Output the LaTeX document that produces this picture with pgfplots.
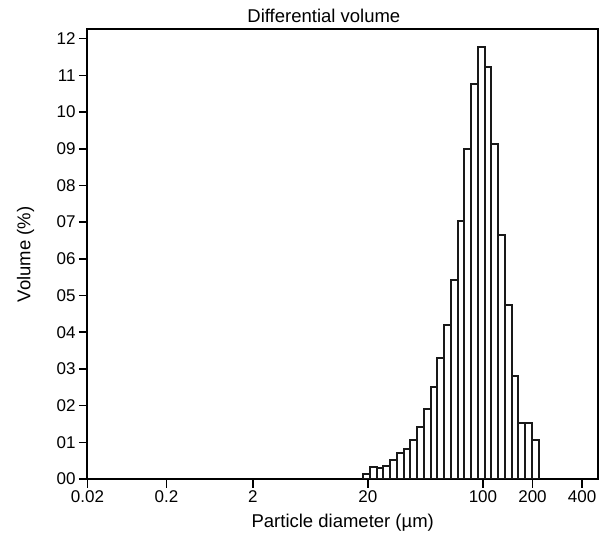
\documentclass[border=0pt]{standalone}
\usepackage{fontspec}
\setmainfont{Liberation Sans}
\usepackage{pgfplots}
\pgfplotsset{compat=1.18}

\begin{document}
\begin{tikzpicture}
\begin{axis}[
  scale only axis,
  width=510.5bp, height=449.5bp,
  % instrument-style diameter axis: log, compressed below 10
  x coord trafo/.code={%
    \pgfmathparse{log10(#1)}\let\lu\pgfmathresult
    \pgfmathparse{\lu<-0.699 ? 79.2*(\lu+1.699) : (\lu<0.301 ? 79.2+86.3*(\lu+0.699) : (\lu<1 ? 165.5+93.7*(\lu-0.301) : 231+164.5*(\lu-1)))}%
  },
  xmin=0.02, xmax=500,
  ymin=0, ymax=12.25,
  xtick={0.02,0.2,2,20,100,200,400},
  xticklabels={0.02,0.2,2,20,100,200,400},
  ytick={0,1,2,3,4,5,6,7,8,9,10,11,12},
  yticklabels={00,01,02,03,04,05,06,07,08,09,10,11,12},
  minor tick num=0,
  tick pos=left, tick align=outside,
  major tick length=8.5bp,
  axis line style={line width=2bp},
  every tick/.style={black, line width=1.6bp},
  ticklabel style={font=\fontsize{17bp}{20bp}\selectfont},
  every axis title/.style={at={(axis description cs:0.463,1.0156)}, anchor=base,
    font=\fontsize{18.5bp}{22bp}\selectfont},
  every axis x label/.style={at={(axis description cs:0.5,-0.109)}, anchor=base,
    font=\fontsize{18.5bp}{22bp}\selectfont},
  every axis y label/.style={at={(axis description cs:-0.1117,0.5)}, rotate=90, anchor=base,
    font=\fontsize{18.5bp}{22bp}\selectfont},
  title={Differential volume},
  xlabel={Particle diameter (µm)},
  ylabel={Volume (\%)},
]
\addplot[ybar interval, fill=white, draw=black!90, line width=2bp] coordinates {
  (18.70,0.13) (20.55,0.34) (22.59,0.31) (24.83,0.36) (27.29,0.51)
  (30.00,0.72) (32.97,0.83) (36.24,1.05) (39.83,1.41) (43.78,1.90)
  (48.12,2.51) (52.89,3.31) (58.13,4.21) (63.89,5.43) (70.22,7.04)
  (77.18,8.98) (84.83,10.77) (93.24,11.76) (102.48,11.23) (112.64,9.13)
  (123.80,6.66) (136.07,4.75) (149.56,2.81) (164.38,1.52) (180.67,1.52)
  (198.58,1.07) (218.26,1.07)
};
\coordinate (sw) at (rel axis cs:0,0);
\coordinate (ne) at (rel axis cs:1,1);
\end{axis}
\pgfresetboundingbox
\path[use as bounding box] ([shift={(-87.5bp,-57bp)}]sw) rectangle ([shift={(11bp,29.5bp)}]ne);
\end{tikzpicture}
\end{document}
